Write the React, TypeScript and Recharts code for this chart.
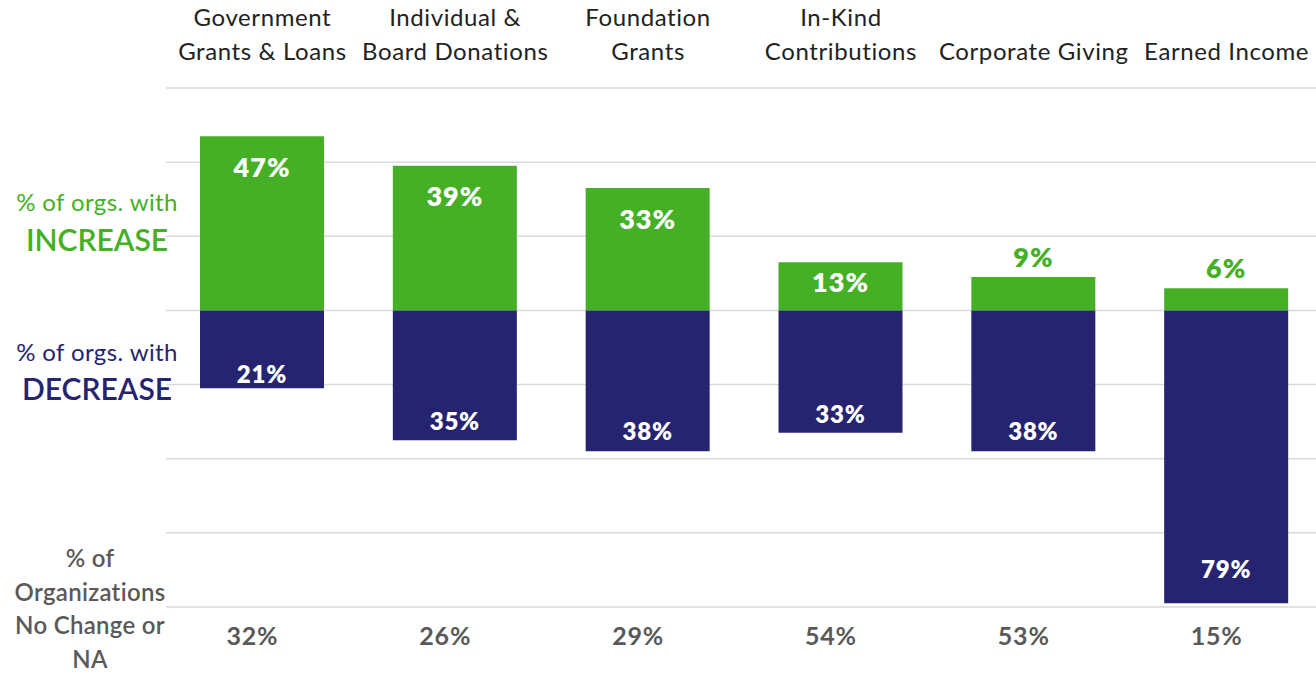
import React from "react";
import { BarChart, Bar, XAxis, YAxis, CartesianGrid, LabelList } from "recharts";

const categories = [
  "Government\nGrants & Loans",
  "Individual &\nBoard Donations",
  "Foundation\nGrants",
  "In-Kind\nContributions",
  "\nCorporate Giving",
  "\nEarned Income",
];
const increase = [47, 39, 33, 13, 9, 6];
const decrease = [21, 35, 38, 33, 38, 79];
const noChange = [32, 26, 29, 54, 53, 15];
const yTicks = [-80, -60, -40, -20, 0, 20, 40, 60];

const GREEN = "#45AF26";
const NAVY = "#262471";
const GRAY = "#595959";
const FONT = "Lato, 'Open Sans', sans-serif";

const data = categories.map((c, i) => ({
  name: c,
  inc: increase[i],
  dec: -decrease[i],
  nc: noChange[i],
}));

const TopTick = (props: any) => {
  const { x, payload } = props;
  const lines = String(payload.value).split("\n");
  return (
    <g>
      {lines.map((l: string, i: number) =>
        l ? (
          <text key={i} x={x} y={26 + i * 34} textAnchor="middle" fontFamily={FONT} fontSize={24} letterSpacing={0.6} fill="#222">
            {l}
          </text>
        ) : null
      )}
    </g>
  );
};

const BottomTick = (props: any) => {
  const { x, payload } = props;
  const idx = categories.indexOf(payload.value);
  return (
    <text x={x - 10} y={645} textAnchor="middle" fontFamily={FONT} fontWeight={700} fontSize={25} letterSpacing={0.8} fill={GRAY}>
      {noChange[idx]}%
    </text>
  );
};

const IncLabel = (props: any) => {
  const { x, y, width, height, value } = props;
  const top = Math.min(y, y + height);
  const h = Math.abs(height);
  const cx = x + width / 2;
  if (h > 40) {
    return (
      <text x={cx} y={top + Math.min(30, h / 2 - 5)} textAnchor="middle" dominantBaseline="central" fontFamily={FONT} fontWeight={800} fontSize={27} letterSpacing={1} fill="#fff">
        {value}%
      </text>
    );
  }
  return (
    <text x={cx} y={top - 21} textAnchor="middle" dominantBaseline="central" fontFamily={FONT} fontWeight={800} fontSize={27} letterSpacing={1} fill={GREEN}>
      {value}%
    </text>
  );
};

const DecLabel = (props: any) => {
  const { x, y, width, height, value } = props;
  const bottom = Math.max(y, y + height);
  const h = Math.abs(height);
  return (
    <text x={x + width / 2} y={bottom - (8 + 0.09 * h)} textAnchor="middle" dominantBaseline="central" fontFamily={FONT} fontWeight={800} fontSize={24} letterSpacing={0.8} fill="#fff">
      {Math.abs(Number(value))}%
    </text>
  );
};

const sideText = (extra: React.CSSProperties): React.CSSProperties => ({
  position: "absolute",
  width: 180,
  textAlign: "center",
  fontFamily: FONT,
  lineHeight: 1,
  whiteSpace: "nowrap",
  ...extra,
});

export default function App() {
  return (
    <div style={{ position: "absolute", left: 0, top: 0, width: 1316, height: 680, overflow: "hidden", background: "#fff" }}>
      <BarChart
        width={1330}
        height={680}
        data={data}
        stackOffset="sign"
        margin={{ top: 0, right: 7, bottom: 0, left: 166 }}
      >
        <CartesianGrid vertical={false} stroke="#d9d9d9" strokeWidth={1.5} />
        <XAxis
          xAxisId="top"
          dataKey="name"
          orientation="top"
          height={88}
          axisLine={false}
          tickLine={false}
          tick={<TopTick />}
          interval={0}
        />
        <XAxis
          xAxisId="bottom"
          dataKey="name"
          orientation="bottom"
          height={73}
          axisLine={false}
          tickLine={false}
          tick={<BottomTick />}
          interval={0}
        />
        <YAxis hide domain={[-80, 60]} ticks={yTicks} type="number" allowDataOverflow />
        <Bar xAxisId="top" dataKey="inc" stackId="s" fill={GREEN} barSize={124} isAnimationActive={false}>
          <LabelList dataKey="inc" content={<IncLabel />} />
        </Bar>
        <Bar xAxisId="top" dataKey="dec" stackId="s" fill={NAVY} barSize={124} isAnimationActive={false}>
          <LabelList dataKey="dec" content={<DecLabel />} />
        </Bar>
      </BarChart>
      <div style={sideText({ left: 7, top: 190, fontSize: 24, letterSpacing: 0.4, color: GREEN })}>% of orgs. with</div>
      <div style={sideText({ left: 7, top: 224, fontSize: 30, fontWeight: 600, color: GREEN })}>INCREASE</div>
      <div style={sideText({ left: 7, top: 340, fontSize: 24, letterSpacing: 0.4, color: NAVY })}>% of orgs. with</div>
      <div style={sideText({ left: 7, top: 373, fontSize: 30, fontWeight: 600, color: NAVY })}>DECREASE</div>
      <div style={sideText({ left: 0, top: 541, fontSize: 24, fontWeight: 600, letterSpacing: 0.3, color: GRAY, lineHeight: "33.5px" })}>
        % of
        <br />
        Organizations
        <br />
        No Change or
        <br />
        NA
      </div>
    </div>
  );
}
